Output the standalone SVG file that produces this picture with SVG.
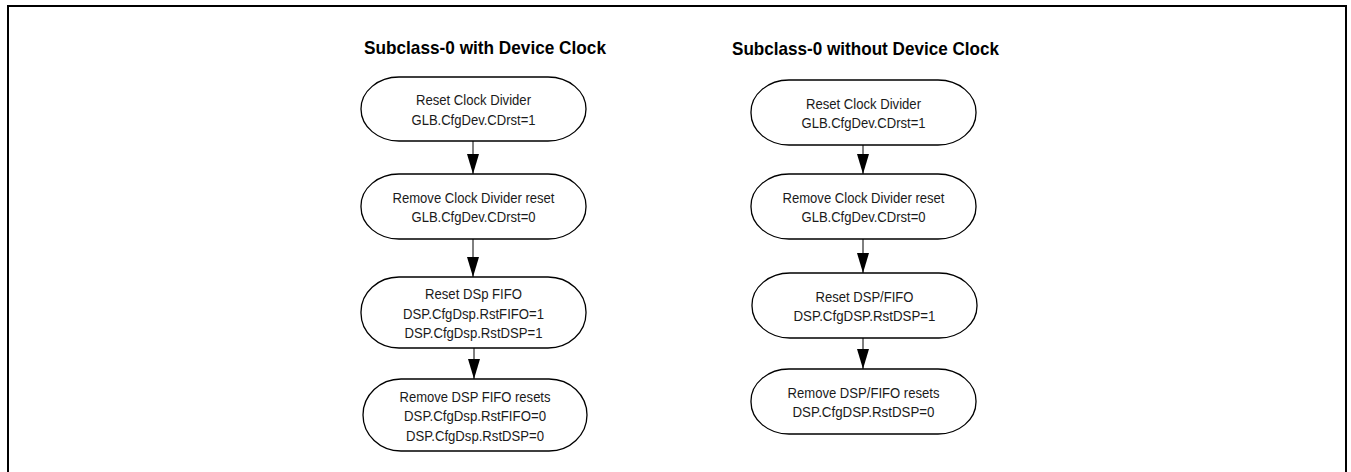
<svg xmlns="http://www.w3.org/2000/svg" width="1351" height="472" viewBox="0 0 1351 472">
<style>
.frame{fill:none;stroke:#000;stroke-width:2}
.node{fill:#fff;stroke:#000;stroke-width:1.3}
.title{font-family:"Liberation Sans",Arial,sans-serif;font-weight:bold;font-size:19px;fill:#000;text-anchor:middle}
.lbl{font-family:"Liberation Sans",Arial,sans-serif;font-size:14.5px;fill:#1a1a1a;text-anchor:middle}
.edge{stroke:#000;stroke-width:1;fill:none}
</style>
<defs>
<marker id="ah" viewBox="0 0 20 12" refX="20" refY="6" markerWidth="20" markerHeight="12" markerUnits="userSpaceOnUse" orient="auto-start-reverse">
<path d="M0,0 L20,6 L0,12 Z" fill="#000"/>
</marker>
</defs>
<rect width="1351" height="472" fill="#fff"/>
<path class="frame" d="M8,472 V6 H1346 V472"/>
<text class="title" x="485" y="54" textLength="242" lengthAdjust="spacingAndGlyphs">Subclass-0 with Device Clock</text>
<text class="title" x="865.5" y="55" textLength="267" lengthAdjust="spacingAndGlyphs">Subclass-0 without Device Clock</text>

<g id="L1"><rect class="node" x="361" y="77" width="225" height="64" rx="38" ry="32"/>
<text class="lbl" x="473.5" y="105" textLength="115" lengthAdjust="spacingAndGlyphs">Reset Clock Divider</text>
<text class="lbl" x="473.5" y="124.5" textLength="124" lengthAdjust="spacingAndGlyphs">GLB.CfgDev.CDrst=1</text></g>
<g id="L2"><rect class="node" x="361" y="174" width="225" height="65" rx="38" ry="32"/>
<text class="lbl" x="473.5" y="202.5" textLength="162" lengthAdjust="spacingAndGlyphs">Remove Clock Divider reset</text>
<text class="lbl" x="473.5" y="222" textLength="124" lengthAdjust="spacingAndGlyphs">GLB.CfgDev.CDrst=0</text></g>
<g id="L3"><rect class="node" x="361" y="277" width="225" height="71" rx="38" ry="35"/>
<text class="lbl" x="473.5" y="299" textLength="97" lengthAdjust="spacingAndGlyphs">Reset DSp FIFO</text>
<text class="lbl" x="473.5" y="318.5" textLength="141" lengthAdjust="spacingAndGlyphs">DSP.CfgDsp.RstFIFO=1</text>
<text class="lbl" x="473.5" y="337.5" textLength="138" lengthAdjust="spacingAndGlyphs">DSP.CfgDsp.RstDSP=1</text></g>
<g id="L4"><rect class="node" x="363" y="379" width="224" height="72" rx="38" ry="36"/>
<text class="lbl" x="475" y="401.5" textLength="151" lengthAdjust="spacingAndGlyphs">Remove DSP FIFO resets</text>
<text class="lbl" x="475" y="421" textLength="142" lengthAdjust="spacingAndGlyphs">DSP.CfgDsp.RstFIFO=0</text>
<text class="lbl" x="475" y="440.5" textLength="138" lengthAdjust="spacingAndGlyphs">DSP.CfgDsp.RstDSP=0</text></g>

<g id="R1"><rect class="node" x="751" y="80" width="225" height="65" rx="38" ry="32"/>
<text class="lbl" x="863.5" y="108.5" textLength="115" lengthAdjust="spacingAndGlyphs">Reset Clock Divider</text>
<text class="lbl" x="863.5" y="128" textLength="124" lengthAdjust="spacingAndGlyphs">GLB.CfgDev.CDrst=1</text></g>
<g id="R2"><rect class="node" x="751" y="174" width="225" height="65" rx="38" ry="32"/>
<text class="lbl" x="863.5" y="202.5" textLength="162" lengthAdjust="spacingAndGlyphs">Remove Clock Divider reset</text>
<text class="lbl" x="863.5" y="222" textLength="124" lengthAdjust="spacingAndGlyphs">GLB.CfgDev.CDrst=0</text></g>
<g id="R3"><rect class="node" x="752" y="273" width="225" height="65" rx="38" ry="32"/>
<text class="lbl" x="864.5" y="301.5" textLength="98" lengthAdjust="spacingAndGlyphs">Reset DSP/FIFO</text>
<text class="lbl" x="864.5" y="321" textLength="142" lengthAdjust="spacingAndGlyphs">DSP.CfgDSP.RstDSP=1</text></g>
<g id="R4"><rect class="node" x="751" y="369" width="225" height="65" rx="38" ry="32"/>
<text class="lbl" x="863.5" y="397.5" textLength="152" lengthAdjust="spacingAndGlyphs">Remove DSP/FIFO resets</text>
<text class="lbl" x="863.5" y="417" textLength="142" lengthAdjust="spacingAndGlyphs">DSP.CfgDSP.RstDSP=0</text></g>

<g id="connectors">
<path class="edge" marker-end="url(#ah)" d="M473,141 V174"/>
<path class="edge" marker-end="url(#ah)" d="M473,239 V277"/>
<path class="edge" marker-end="url(#ah)" d="M474,348 V379"/>
<path class="edge" marker-end="url(#ah)" d="M863,145 V174"/>
<path class="edge" marker-end="url(#ah)" d="M863,239 V273"/>
<path class="edge" marker-end="url(#ah)" d="M863,338 V369"/>
</g>
</svg>
